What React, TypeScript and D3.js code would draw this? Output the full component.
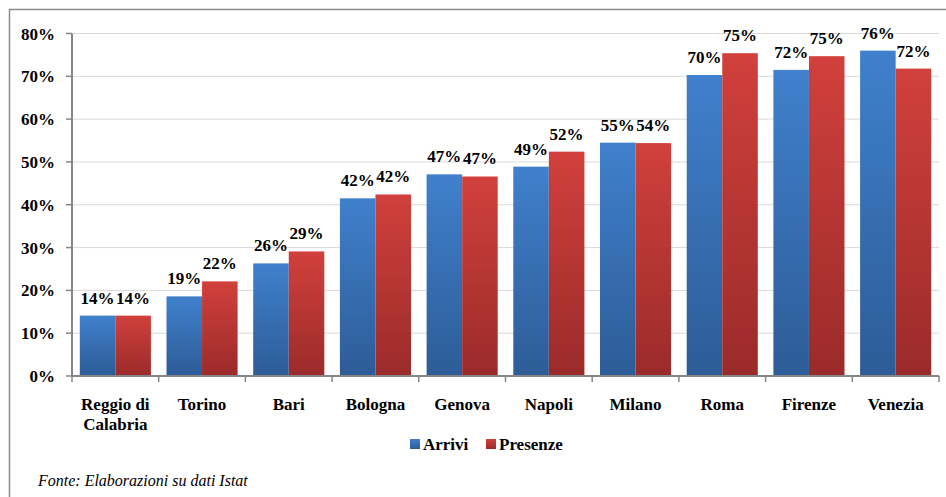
import React from 'react';
import * as d3 from 'd3';

const cities = ['Reggio di Calabria', 'Torino', 'Bari', 'Bologna', 'Genova', 'Napoli', 'Milano', 'Roma', 'Firenze', 'Venezia'];
const arrivi = [0.141, 0.186, 0.263, 0.415, 0.471, 0.489, 0.545, 0.703, 0.715, 0.76];
const presenze = [0.141, 0.221, 0.291, 0.424, 0.466, 0.524, 0.544, 0.754, 0.747, 0.718];
const yTicks = [0, 0.1, 0.2, 0.3, 0.4, 0.5, 0.6, 0.7, 0.8];
const seriesNames = ['Arrivi', 'Presenze'];

const width = 946;
const height = 497;
const left = 72;
const right = 939;
const top = 33.5;
const bottom = 376;

const bold: React.CSSProperties = { fontFamily: 'Liberation Serif', fontWeight: 'bold', fontSize: 17 };

const x = d3.scaleBand<string>().domain(cities).range([left, right]).paddingInner(0.18).paddingOuter(0.09);
const xs = d3.scaleBand<number>().domain([0, 1]).range([0, x.bandwidth()]);
const y = d3.scaleLinear().domain([0, 0.8]).range([bottom, top]);
const pct = d3.format('.0%');

const App: React.FC = () => {
  const series = [arrivi, presenze];
  const fills = ['url(#gBlue)', 'url(#gRed)'];
  const boundaries = cities.map((c) => (x(c) as number) - (x.step() * x.paddingInner()) / 2).concat([right]);
  const legendX = [410, 486];

  return (
    <svg width={width} height={height} style={{ position: 'absolute', left: 0, top: 0 }}>
      <defs>
        <linearGradient id="gBlue" x1={0} y1={0} x2={0} y2={1}>
          <stop offset="0%" stopColor="#4080cc" />
          <stop offset="100%" stopColor="#2d5c97" />
        </linearGradient>
        <linearGradient id="gRed" x1={0} y1={0} x2={0} y2={1}>
          <stop offset="0%" stopColor="#d1403c" />
          <stop offset="100%" stopColor="#9a2b2a" />
        </linearGradient>
      </defs>

      {/* frame */}
      <rect x={9.5} y={9.5} width={width + 10} height={height + 10} fill="white" stroke="#8c8c8c" strokeWidth={1.5} />

      {/* gridlines */}
      {yTicks.filter((t) => t > 0).map((t) => (
        <line key={t} x1={left} x2={right} y1={y(t)} y2={y(t)} stroke="#d9d9d9" strokeWidth={1} />
      ))}

      {/* bars + labels */}
      {cities.map((c, i) => (
        <g key={c} transform={`translate(${x(c)},0)`}>
          {series.map((vals, si) => (
            <rect
              key={si}
              x={xs(si)}
              width={xs.bandwidth()}
              y={y(vals[i])}
              height={bottom - y(vals[i])}
              fill={fills[si]}
            />
          ))}
          {series.map((vals, si) => (
            <text
              key={'t' + si}
              x={(xs(si) as number) + xs.bandwidth() / 2}
              y={y(vals[i]) - 12}
              textAnchor="middle"
              style={bold}
            >
              {`${Math.round(vals[i] * 100)}%`}
            </text>
          ))}
        </g>
      ))}

      {/* y axis */}
      <line x1={left} x2={left} y1={top} y2={bottom} stroke="#868686" strokeWidth={2} />
      {yTicks.map((t) => (
        <g key={t}>
          <line x1={left - 6} x2={left} y1={y(t)} y2={y(t)} stroke="#868686" strokeWidth={1.5} />
          <text x={55} y={y(t) + 6} textAnchor="end" style={bold}>{pct(t)}</text>
        </g>
      ))}

      {/* x axis */}
      <line x1={left} x2={right} y1={bottom} y2={bottom} stroke="#868686" strokeWidth={2} />
      {boundaries.map((b, i) => (
        <line key={i} x1={b} x2={b} y1={bottom} y2={bottom + 6} stroke="#868686" strokeWidth={1.5} />
      ))}
      {cities.map((c) => {
        const cx = (x(c) as number) + x.bandwidth() / 2;
        const lines = c === 'Reggio di Calabria' ? ['Reggio di', 'Calabria'] : [c];
        return (
          <text key={c} textAnchor="middle" style={bold}>
            {lines.map((l, i) => (
              <tspan key={i} x={cx} y={410 + i * 20}>{l}</tspan>
            ))}
          </text>
        );
      })}

      {/* legend */}
      {seriesNames.map((name, i) => (
        <g key={name}>
          <rect x={legendX[i]} y={439} width={10} height={10} fill={fills[i]} />
          <text x={legendX[i] + 13} y={450} style={bold}>{name}</text>
        </g>
      ))}

      {/* source */}
      <text x={38} y={486} style={{ fontFamily: 'Liberation Serif', fontStyle: 'italic', fontSize: 16 }}>
        Fonte: Elaborazioni su dati Istat
      </text>
    </svg>
  );
};

export default App;
